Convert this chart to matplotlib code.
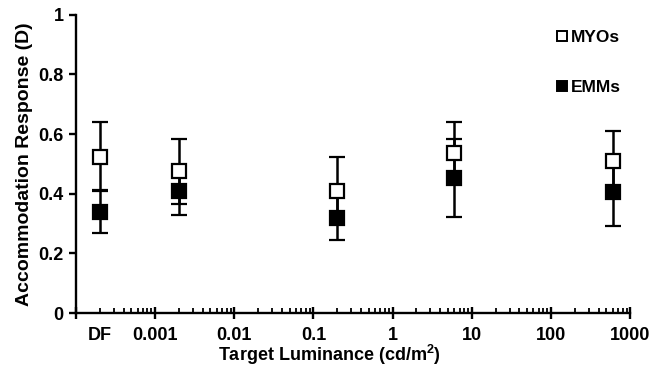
import matplotlib
matplotlib.use("Agg")
import matplotlib.pyplot as plt
from matplotlib.ticker import FixedLocator, FixedFormatter
from matplotlib.lines import Line2D

plt.rcParams['font.family'] = ['Liberation Sans', 'DejaVu Sans']
plt.rcParams['font.weight'] = 'bold'
plt.rcParams['mathtext.fontset'] = 'custom'
plt.rcParams['mathtext.bf'] = 'Liberation Sans:bold'
plt.rcParams['mathtext.rm'] = 'Liberation Sans:bold'

# Data
luminance = [0.0002, 0.002, 0.2, 6, 600]
myo_mean = [0.525, 0.475, 0.41, 0.537, 0.51]
myo_err = [0.115, 0.108, 0.112, 0.104, 0.10]
emm_mean = [0.34, 0.41, 0.318, 0.452, 0.406]
emm_err = [0.072, 0.08, 0.074, 0.131, 0.113]
series_labels = ['MYOs', 'EMMs']

x_major = [1e-4, 1e-3, 1e-2, 1e-1, 1, 10, 100, 1000]
x_major_labels = ['', '0.001', '0.01', '0.1', '1', '10', '100', '1000']
df_pos = 0.0002
df_label = 'DF'
y_ticks = [0, 0.2, 0.4, 0.6, 0.8, 1.0]
y_labels = ['0', '0.2', '0.4', '0.6', '0.8', '1']

fig = plt.figure(figsize=(6.49, 3.71), dpi=100)
ax = fig.add_axes([0.117, 0.156, 0.854, 0.804])

common = dict(fmt='s', ecolor='black', elinewidth=1.8, capsize=5.5, capthick=1.8,
              markersize=9.5, markeredgewidth=1.6, markeredgecolor='black')
ax.errorbar(luminance, emm_mean, yerr=emm_err, markerfacecolor='black', zorder=3, **common)
ax.errorbar(luminance, myo_mean, yerr=myo_err, markerfacecolor='white', zorder=4, **common)

ax.set_xscale('log')
ax.set_xlim(1e-4, 1000)
ax.set_ylim(0, 1)

ax.xaxis.set_major_locator(FixedLocator(x_major))
ax.xaxis.set_major_formatter(FixedFormatter(x_major_labels))
minors = []
for d in x_major[:-1]:
    for k in range(2, 10):
        minors.append(d * k)
ax.xaxis.set_minor_locator(FixedLocator(minors))
ax.xaxis.set_minor_formatter(plt.FuncFormatter(
    lambda v, p: df_label if abs(v - df_pos) < 1e-9 else ''))

ax.set_yticks(y_ticks)
ax.set_yticklabels(y_labels)

for s in ['top', 'right']:
    ax.spines[s].set_visible(False)
for s in ['left', 'bottom']:
    ax.spines[s].set_linewidth(1.7)

ax.tick_params(axis='y', direction='out', length=5, width=1.7, labelsize=13, pad=4)
ax.tick_params(axis='x', which='major', direction='inout', length=8, width=1.7, labelsize=13, pad=6)
ax.tick_params(axis='x', which='minor', direction='in', length=3.5, width=1.3, labelsize=13, pad=10)

for lab in ax.get_xticklabels() + ax.get_yticklabels() + ax.get_xticklabels(minor=True):
    lab.set_fontweight('bold')

ax.set_xlabel('Target Luminance (cd/m$^{\\mathbf{2}}$)', fontsize=13, fontweight='bold')
ax.xaxis.set_label_coords((329 - 76) / 554, -0.1, transform=ax.transAxes)
ax.xaxis.label.set_va('top')
ax.set_ylabel('Accommodation Response (D)', fontsize=14, fontweight='bold', labelpad=4)

handles = [Line2D([], [], marker='s', linestyle='none', markersize=7.5, markerfacecolor='white',
                  markeredgecolor='black', markeredgewidth=1.4),
           Line2D([], [], marker='s', linestyle='none', markersize=7.5, markerfacecolor='black',
                  markeredgecolor='black', markeredgewidth=1.4)]
leg = ax.legend(handles, series_labels, loc='upper right', bbox_to_anchor=(0.97, 0.943),
                bbox_transform=fig.transFigure, frameon=False, fontsize=12.5,
                handlelength=0.7, handletextpad=0.15, labelspacing=2.0, borderpad=0)
for t in leg.get_texts():
    t.set_fontweight('bold')

fig.savefig('out.png', dpi=100)
